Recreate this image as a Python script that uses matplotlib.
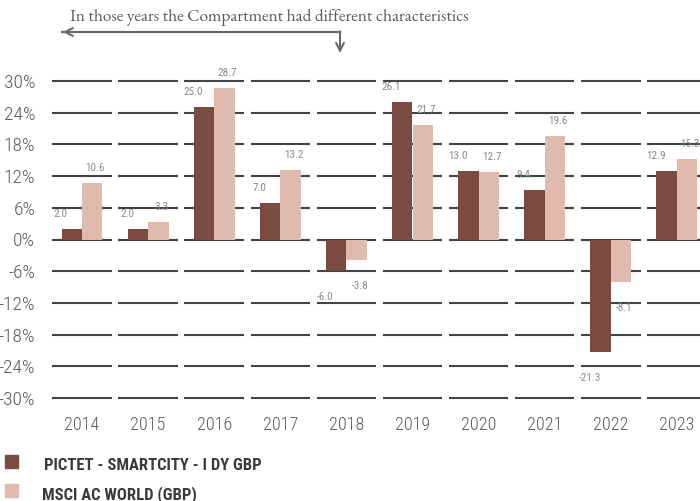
import numpy as np
import matplotlib
matplotlib.use('Agg')
from matplotlib import pyplot as plt
from matplotlib.patches import Rectangle

# data
years = ['2014', '2015', '2016', '2017', '2018', '2019', '2020', '2021', '2022', '2023']
fund = [2.0, 2.0, 25.0, 7.0, -6.0, 26.1, 13.0, 9.4, -21.3, 12.9]
index = [10.6, 3.3, 28.7, 13.2, -3.8, 21.7, 12.7, 19.6, -8.1, 15.3]
yticks = [30, 24, 18, 12, 6, 0, -6, -12, -18, -24, -30]
fund_name = 'PICTET - SMARTCITY - I DY GBP'
index_name = 'MSCI AC WORLD (GBP)'
note = 'In those years the Compartment had different characteristics'

dark = '#7b4a41'
light = '#dfbaaf'
grey = '#595959'
narrow = ['Roboto Condensed', 'PT Sans Narrow', 'DejaVu Sans']
serif = ['EB Garamond', 'Cormorant Garamond', 'DejaVu Serif']

W, H = 700, 501
fig = plt.figure(figsize=(W / 100, H / 100), dpi=100)

# axes placed in pixel terms
left_px, right_px, top_px, bot_px = 45, 700, 60, 405
ax = fig.add_axes([left_px / W, 1 - bot_px / H, (right_px - left_px) / W, (bot_px - top_px) / H])
step = 66.1
x0 = 82
ppu = (398 - 81) / 60.0  # pixels per percent
ax.set_xlim(-(x0 - left_px) / step, (right_px - x0) / step)
ax.set_ylim(-30 - (bot_px - 398) / ppu, 30 + (81 - top_px) / ppu)

x = np.arange(len(years))
bw = 0.31

# segmented gridlines, one piece per category
for yv in yticks:
    ax.hlines([yv] * len(x), x - 0.45, x + 0.45, color='#444444', lw=1.5, zorder=1)

ax.bar(x - bw / 2, fund, bw, color=dark, zorder=2)
ax.bar(x + bw / 2, index, bw, color=light, zorder=2)

up = 15 / ppu
down = 26 / ppu
for i in x:
    for v, dx in ((fund[i], -0.32), (index[i], 0.2)):
        yy = v + up if v >= 0 else v - down
        ax.text(i + dx, yy, f'{v:.1f}', ha='center', va='center', fontsize=8,
                color='#8a8a8a', family=narrow)

ax.set_yticks(yticks)
ax.set_yticklabels([f'{t}%' for t in yticks], fontsize=14, color=grey, family=narrow,
                   fontweight='light')
ax.set_xticks(x)
ax.set_xticklabels(years, fontsize=13, color=grey, family=narrow, fontweight='light')
ax.tick_params(length=0)
ax.tick_params(axis='y', pad=7)
ax.tick_params(axis='x', pad=8)
for s in ax.spines.values():
    s.set_visible(False)

# note with the bent arrow
fig.text(70 / W, 1 - 17 / H, note, fontsize=12.4, color=grey, family=serif,
         va='center', ha='left')
fig.add_artist(plt.Line2D([62 / W, 340 / W], [1 - 32 / H, 1 - 32 / H], color='#666666', lw=1.5))
ax.annotate('', xy=(60, H - 32), xycoords='figure pixels', xytext=(70, H - 32),
            textcoords='figure pixels',
            arrowprops=dict(arrowstyle='->', color='#666666', lw=1.5, mutation_scale=14))
ax.annotate('', xy=(340, H - 53), xycoords='figure pixels', xytext=(340, H - 31.3),
            textcoords='figure pixels',
            arrowprops=dict(arrowstyle='->', color='#666666', lw=1.5, mutation_scale=14,
                            shrinkA=0, shrinkB=0))

# legend drawn by hand
fig.add_artist(Rectangle((5 / W, 1 - 468 / H), 13 / W, 13 / H, color=dark, transform=fig.transFigure))
fig.text(44 / W, 1 - 465 / H, fund_name, fontsize=12, fontweight='bold', color='#3a3a3a',
         family=narrow, va='center')
fig.add_artist(Rectangle((5 / W, 1 - 497 / H), 13 / W, 13 / H, color=light, transform=fig.transFigure))
fig.text(42 / W, 1 - 495 / H, index_name, fontsize=12, fontweight='bold', color='#3a3a3a',
         family=narrow, va='center')

plt.savefig('out.png', dpi=100)
